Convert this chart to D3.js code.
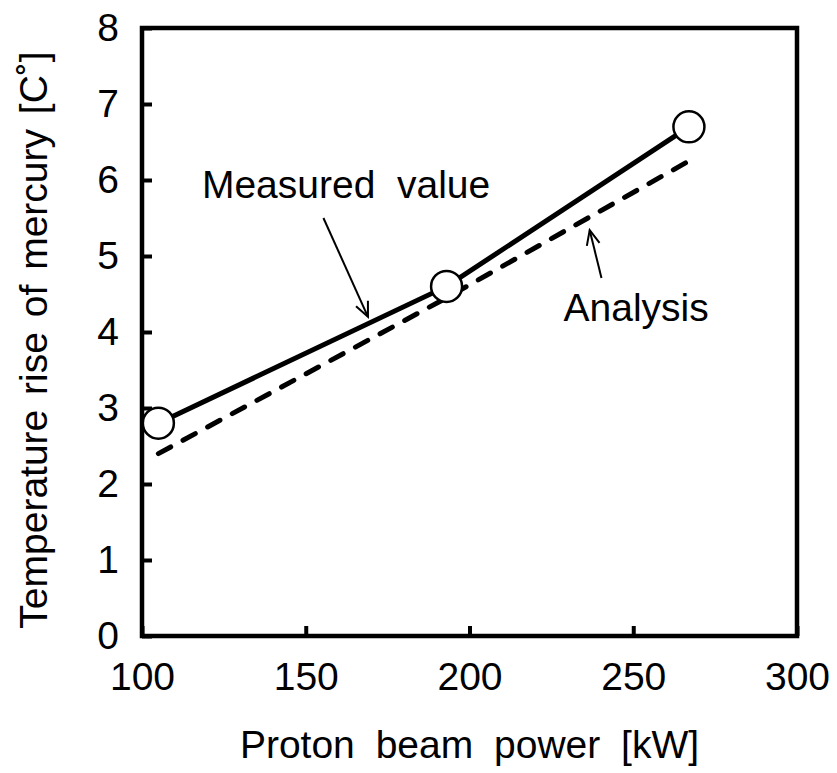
<!DOCTYPE html>
<html>
<head>
<meta charset="utf-8">
<script src="https://cdn.jsdelivr.net/npm/d3@7"></script>
<style>
  body { margin: 0; background: #fff; }
  text { font-family: Arial, "Liberation Sans", sans-serif; fill: #000; }
</style>
</head>
<body>
<svg width="837" height="773"></svg>
<script>
const powerKW = [105, 193, 267]
const measured = [2.8, 4.6, 6.7]
const analysis = [2.4, 4.45, 6.25]
const xTicks = [100, 150, 200, 250, 300]
const yTicks = [0, 1, 2, 3, 4, 5, 6, 7, 8]

const svg = d3.select("svg")

const x = d3.scaleLinear().domain([100, 300]).range([142, 797])
const y = d3.scaleLinear().domain([0, 8]).range([636, 28])

// axes, ticks pointing inward
const xAxis = svg.append("g")
  .attr("transform", "translate(0,636)")
  .call(d3.axisBottom(x).tickValues(xTicks).tickSizeInner(-10).tickSizeOuter(0).tickPadding(26))
const yAxis = svg.append("g")
  .attr("transform", "translate(142,0)")
  .call(d3.axisLeft(y).tickValues(yTicks).tickSizeInner(-10).tickSizeOuter(0).tickPadding(23))

;[xAxis, yAxis].forEach(a => {
  a.select(".domain").remove()
  a.selectAll("line").attr("stroke", "#000").attr("stroke-width", 4)
  a.selectAll("text").attr("font-size", 39).attr("fill", "#000")
    .style("font-family", "Arial, 'Liberation Sans', sans-serif")
})
xAxis.selectAll("text").attr("dy", "0.71em")

svg.append("rect")
  .attr("x", x(100)).attr("y", y(8))
  .attr("width", x(300) - x(100)).attr("height", y(0) - y(8))
  .attr("fill", "none").attr("stroke", "#000").attr("stroke-width", 4.5)

const line = d3.line().x(d => x(d[0])).y(d => y(d[1]))

svg.append("path")
  .datum(powerKW.map((p, i) => [p, analysis[i]]))
  .attr("d", line)
  .attr("fill", "none").attr("stroke", "#000").attr("stroke-width", 5)
  .attr("stroke-linecap", "round").attr("stroke-dasharray", "14,14")

svg.append("path")
  .datum(powerKW.map((p, i) => [p, measured[i]]))
  .attr("d", line)
  .attr("fill", "none").attr("stroke", "#000").attr("stroke-width", 5)

svg.selectAll("circle.pt")
  .data(powerKW.map((p, i) => [p, measured[i]]))
  .enter()
  .append("circle")
  .attr("class", "pt")
  .attr("cx", d => x(d[0])).attr("cy", d => y(d[1]))
  .attr("r", 15.5)
  .attr("fill", "#fff").attr("stroke", "#000").attr("stroke-width", 2.5)

// annotations
function arrow(x1, y1, x2, y2) {
  const ax = x(x1), ay = y(y1), bx = x(x2), by = y(y2)
  const ang = Math.atan2(by - ay, bx - ax)
  const len = 16, spread = 0.42
  svg.append("line")
    .attr("x1", ax).attr("y1", ay).attr("x2", bx).attr("y2", by)
    .attr("stroke", "#000").attr("stroke-width", 2)
  svg.append("path")
    .attr("d", "M" + (bx - len * Math.cos(ang - spread)) + "," + (by - len * Math.sin(ang - spread)) +
      "L" + bx + "," + by +
      "L" + (bx - len * Math.cos(ang + spread)) + "," + (by - len * Math.sin(ang + spread)))
    .attr("fill", "none").attr("stroke", "#000").attr("stroke-width", 2)
}
arrow(155.4, 5.5, 169, 4.2)
arrow(240.3, 4.71, 236.7, 5.34)

svg.append("text")
  .attr("x", x(118.3)).attr("y", y(5.76))
  .attr("font-size", 39)
  .style("white-space", "pre")
  .text("Measured  value")

svg.append("text")
  .attr("x", x(228.7)).attr("y", y(4.14))
  .attr("font-size", 39)
  .text("Analysis")

svg.append("text")
  .attr("x", (x(100) + x(300)) / 2).attr("y", 758)
  .attr("text-anchor", "middle").attr("font-size", 39)
  .attr("word-spacing", 10)
  .text("Proton beam power [kW]")

svg.append("text")
  .attr("transform", "translate(47," + ((y(0) + y(8)) / 2 + 8) + ") rotate(-90)")
  .attr("text-anchor", "middle").attr("font-size", 39)
  .attr("word-spacing", 4)
  .text("Temperature rise of mercury [C˚]")
</script>
</body>
</html>
